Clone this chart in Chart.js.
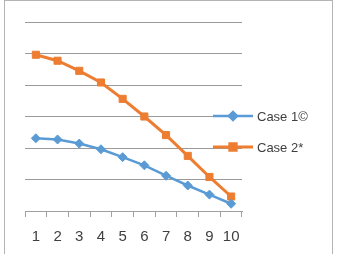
<!DOCTYPE html>
<html>
<head>
<meta charset="utf-8">
<script src="https://cdn.jsdelivr.net/npm/chart.js@4.4.0/dist/chart.umd.min.js"></script>
<style>
  html, body { margin: 0; padding: 0; background: #ffffff; overflow: hidden; }
  #wrap { position: relative; width: 360px; height: 254px; overflow: hidden; }
  #frame { position: absolute; left: 4px; top: 0px; width: 327px; height: 270px; border: 1px solid #b4b4b4; pointer-events: none; }
  canvas { position: absolute; left: 0; top: 0; }
</style>
</head>
<body>
<div id="wrap">
  <canvas id="c" width="360" height="257"></canvas>
  <div id="frame"></div>
</div>
<script>
const categories = ['1', '2', '3', '4', '5', '6', '7', '8', '9', '10'];
const seriesNames = ['Case 1\u00A9', 'Case 2*'];
const case1 = [2.31, 2.27, 2.14, 1.96, 1.71, 1.45, 1.12, 0.81, 0.52, 0.23];
const case2 = [4.96, 4.77, 4.45, 4.08, 3.56, 3.00, 2.41, 1.75, 1.08, 0.46];
const yMin = 0, yMax = 6, yStep = 1;

const BLUE = '#5B9BD5';
const ORANGE = '#ED7D31';
const FONT = '"Liberation Sans", Arial, sans-serif';

const legendPlugin = {
  id: 'sideLegend',
  afterDraw(chart) {
    const ctx = chart.ctx;
    const x0 = 213, x1 = 253, tx = 257, y0 = 116, dy = 31;
    chart.data.datasets.forEach((ds, i) => {
      const y = y0 + i * dy;
      ctx.save();
      ctx.strokeStyle = ds.borderColor;
      ctx.lineWidth = ds.borderWidth;
      ctx.beginPath();
      ctx.moveTo(x0, y);
      ctx.lineTo(x1, y);
      ctx.stroke();
      ctx.fillStyle = ds.pointBackgroundColor;
      ctx.strokeStyle = ds.pointBorderColor;
      if (Chart.helpers && Chart.helpers.drawPoint) {
        Chart.helpers.drawPoint(ctx, {
          pointStyle: ds.pointStyle,
          radius: ds.pointRadius - 0.5,
          rotation: 0,
          borderWidth: 1
        }, (x0 + x1) / 2, y);
      }
      ctx.fillStyle = '#404040';
      ctx.font = '13px ' + FONT;
      ctx.textBaseline = 'middle';
      ctx.textAlign = 'left';
      ctx.fillText(ds.label, tx, y + 1);
      ctx.restore();
    });
  }
};

new Chart(document.getElementById('c'), {
  type: 'line',
  data: {
    labels: categories,
    datasets: [
      {
        label: seriesNames[0],
        data: case1,
        borderColor: BLUE,
        backgroundColor: BLUE,
        pointBackgroundColor: BLUE,
        pointBorderColor: BLUE,
        borderWidth: 2.5,
        pointStyle: 'rectRot',
        pointRadius: 4.5,
        pointBorderWidth: 1,
        tension: 0
      },
      {
        label: seriesNames[1],
        data: case2,
        borderColor: ORANGE,
        backgroundColor: ORANGE,
        pointBackgroundColor: ORANGE,
        pointBorderColor: ORANGE,
        borderWidth: 3,
        pointStyle: 'rect',
        pointRadius: 5,
        pointBorderWidth: 1,
        tension: 0
      }
    ]
  },
  options: {
    responsive: false,
    animation: false,
    devicePixelRatio: 1,
    layout: { padding: { left: 25, right: 118, top: 22, bottom: 0 } },
    plugins: {
      legend: { display: false },
      tooltip: { enabled: false },
      title: { display: false }
    },
    scales: {
      x: {
        type: 'category',
        offset: true,
        grid: {
          offset: true,
          drawOnChartArea: false,
          drawTicks: true,
          tickLength: 6,
          color: '#a0a0a0'
        },
        border: { display: true, color: '#a0a0a0', width: 1 },
        ticks: {
          padding: 11,
          color: '#404040',
          font: { family: FONT, size: 15 },
          maxRotation: 0,
          autoSkip: false
        }
      },
      y: {
        min: yMin,
        max: yMax,
        grid: { color: '#9a9a9a', drawTicks: false, lineWidth: 1 },
        border: { display: false },
        ticks: { display: false, stepSize: yStep }
      }
    }
  },
  plugins: [legendPlugin]
});
</script>
</body>
</html>
